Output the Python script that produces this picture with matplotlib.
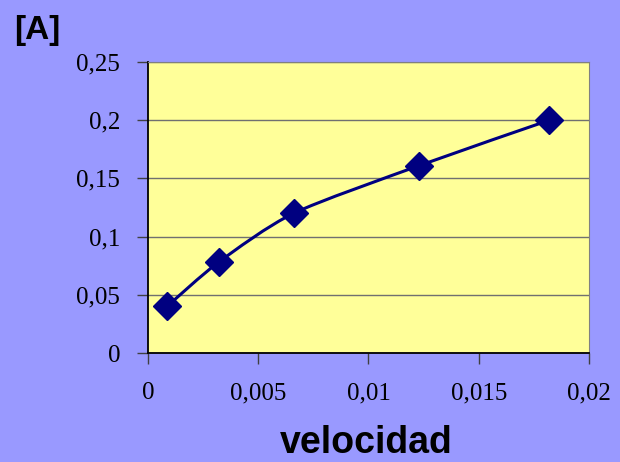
import matplotlib
matplotlib.use('Agg')
import matplotlib.pyplot as plt
import numpy as np
from matplotlib.path import Path
from matplotlib.patches import PathPatch
from matplotlib.ticker import FuncFormatter

# data
velocidad = [0.00086, 0.0032, 0.0066, 0.0123, 0.0182]
corriente = [0.04, 0.078, 0.12, 0.161, 0.20]
xticks = [0, 0.005, 0.01, 0.015, 0.02]
yticks = [0, 0.05, 0.1, 0.15, 0.2, 0.25]

plt.rcParams['font.family'] = ['Liberation Serif', 'DejaVu Serif']

fig = plt.figure(figsize=(6.2, 4.62), dpi=100, facecolor='#9999FF')
ax = fig.add_axes([0.2387, 0.2359, 0.7113, 0.6299])
ax.set_facecolor('#FFFF99')

# smoothed line like the spreadsheet one (bezier through the points)
pts = np.column_stack([velocidad, corriente])
ext = np.vstack([pts[0], pts, pts[-1]])
verts = [tuple(pts[0])]
codes = [Path.MOVETO]
for i in range(len(pts) - 1):
    p0, p1, p2, p3 = ext[i], ext[i + 1], ext[i + 2], ext[i + 3]
    c1 = p1 + (p2 - p0) / 8
    c2 = p2 - (p3 - p1) / 8
    verts += [tuple(c1), tuple(c2), tuple(p2)]
    codes += [Path.CURVE4] * 3
ax.add_patch(PathPatch(Path(verts, codes), fill=False, edgecolor='#000080', lw=2.2, zorder=3))
ax.plot(velocidad, corriente, linestyle='none', marker='D', markersize=14,
        color='#000080', zorder=4)

ax.set_xlim(0, 0.02)
ax.set_ylim(0, 0.25)
ax.set_xticks(xticks)
ax.set_yticks(yticks)
fmt = FuncFormatter(lambda v, p: ('%g' % round(v, 4)).replace('.', ','))
ax.xaxis.set_major_formatter(fmt)
ax.yaxis.set_major_formatter(fmt)
ax.yaxis.grid(True, color='#707070', lw=1)
ax.set_axisbelow(True)

ax.tick_params(axis='both', direction='out', length=8, width=1, color='#404040',
               labelsize=18)
ax.tick_params(axis='y', pad=12)
ax.tick_params(axis='x', pad=13)

ax.spines['left'].set_color('black')
ax.spines['bottom'].set_color('black')
ax.spines['left'].set_linewidth(1.3)
ax.spines['bottom'].set_linewidth(1.3)
ax.spines['top'].set_color('#808080')
ax.spines['right'].set_color('#808080')

fig.text(37 / 620, 1 - 30 / 462, '[A]', fontsize=24, fontweight='bold',
         family='Liberation Sans', ha='center', va='center')
fig.text(366 / 620, 1 - 443 / 462, 'velocidad', fontsize=27, fontweight='bold',
         family='Liberation Sans', ha='center', va='center')

fig.savefig('out.png', dpi=100, facecolor=fig.get_facecolor())
